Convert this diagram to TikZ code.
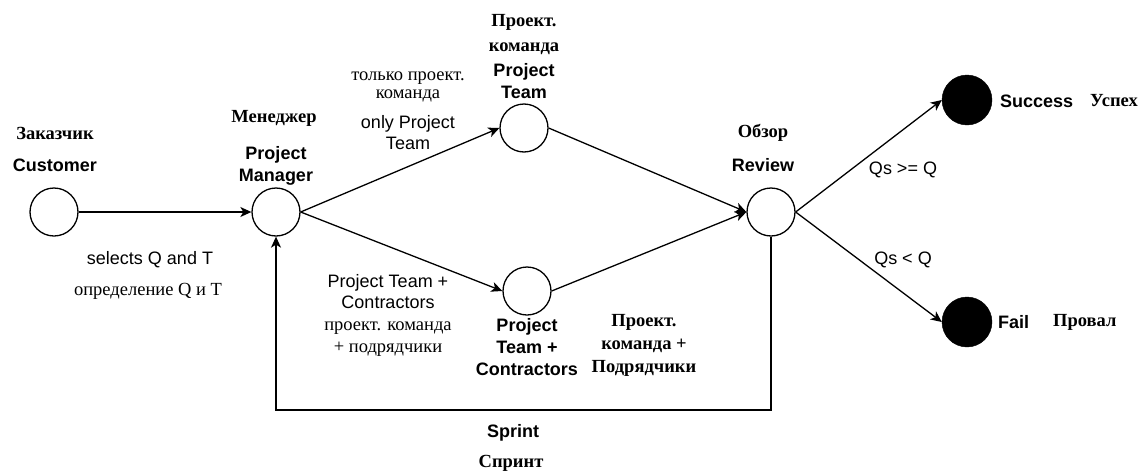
\documentclass[tikz,border=0pt]{standalone}
\usepackage{fontspec}
\setmainfont{Liberation Serif}
\newfontfamily\arialf{Liberation Sans}
\usetikzlibrary{arrows.meta}
\begin{document}
\begin{tikzpicture}[x=1pt,y=-1pt,
  st/.style={circle,draw,line width=1.3pt,minimum size=48pt,inner sep=0pt},
  fin/.style={circle,fill=black,draw=black,minimum size=50pt,inner sep=0pt},
  en/.style={font=\arialf\fontsize{18}{21}\selectfont,align=center,inner sep=0pt},
  enb/.style={font=\arialf\bfseries\fontsize{18}{22}\selectfont,align=center,inner sep=0pt},
  ru/.style={font=\fontsize{18.5}{22}\selectfont,align=center,inner sep=0pt},
  rub/.style={font=\bfseries\fontsize{18.5}{23}\selectfont,align=center,inner sep=0pt},
  conn/.style={line width=1.3pt,-{Stealth[length=11pt,width=10pt,inset=3pt]}},
  line/.style={line width=1.3pt}
]
\useasboundingbox (0,0) rectangle (1148,474);
% states
\node[st] (cust) at (54,212) {};
\node[st] (pm) at (276,212) {};
\node[st] (pt) at (524,128) {};
\node[st] (ptc) at (527,291) {};
\node[st] (rev) at (771,212) {};
\node[fin] (succ) at (967,100) {};
\node[fin] (fail) at (967,322) {};
\coordinate (lbr) at (771,410);
\coordinate (lbl) at (276,410);
% connectors
\draw[conn] (cust) -- (pm);
\draw[conn] (pm.east) -- (pt.west);
\draw[conn] (pm.east) -- (ptc.west);
\draw[conn] (pt.east) -- (rev.west);
\draw[conn] (ptc.east) -- (rev.west);
\draw[conn] (rev.east) -- (succ.west);
\draw[conn] (rev.east) -- (fail.west);
\draw[conn] (rev.south) -- (lbr) -- (lbl) -- (pm.south);
% labels
\node[rub] (custru) at (55,133) {Заказчик};
\node[enb] (custen) at (55,165) {Customer};
\node[rub] (pmru) at (274,118) {Менеджер};
\node[enb] (pmen) at (276,166) {Project\\Manager};
\node[rub,font=\bfseries\fontsize{18.5}{25}\selectfont] (ptru) at (524,35) {Проект.\\команда};
\node[enb] (pten) at (524,81) {Project\\Team};
\node[ru,font=\fontsize{18.5}{18}\selectfont] (e1ru) at (408,87) {только проект.\\команда};
\node[en] (e1en) at (408,133) {only Project\\Team};
\node[en] (e2en) at (388,292) {Project Team +\\Contractors};
\node[ru] (e2ru) at (388,339) {проект. команда\\+ подрядчики};
\node[enb] (ptcen) at (527,347) {Project\\Team +\\Contractors};
\node[rub] (ptcru) at (644,345) {Проект.\\команда +\\Подрядчики};
\node[en] (selen) at (150,260) {selects Q and T};
\node[ru] (selru) at (148,291) {определение Q и T};
\node[rub] (revru) at (763,133) {Обзор};
\node[enb] (reven) at (763,165) {Review};
\node[en] (q1) at (903,170) {Qs >= Q};
\node[en] (q2) at (903,260) {Qs < Q};
\node[enb,anchor=west] (succen) at (1000,101) {Success};
\node[rub,anchor=west] (succru) at (1090,101) {Успех};
\node[enb,anchor=west] (failen) at (998,322) {Fail};
\node[rub,anchor=west] (failru) at (1053,322) {Провал};
\node[enb] (spen) at (513,433) {Sprint};
\node[rub] (spru) at (511,463) {Спринт};
\end{tikzpicture}
\end{document}
